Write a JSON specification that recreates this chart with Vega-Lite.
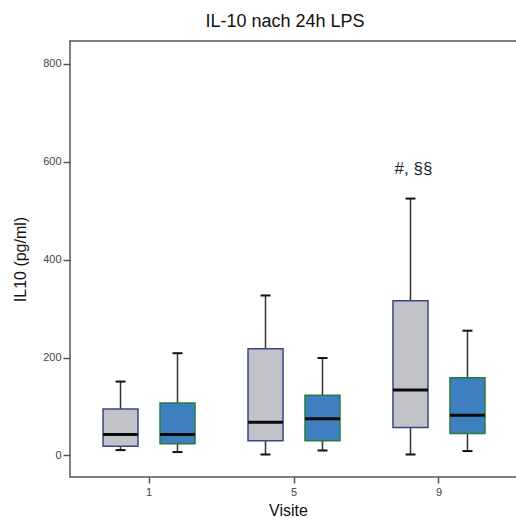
{
  "$schema": "https://vega.github.io/schema/vega-lite/v6.json",
  "autosize": "none",
  "padding": {"left": 70, "top": 41, "right": 0, "bottom": 41},
  "width": 448,
  "height": 436,
  "background": "white",
  "title": {"text": "IL-10 nach 24h LPS", "fontSize": 18, "fontWeight": "normal", "font": "Liberation Sans", "color": "#111", "anchor": "middle", "dx": -9, "dy": 17, "offset": 13, "baseline": "alphabetic"},
  "config": {
    "view": {"stroke": "#555", "strokeWidth": 1.5},
    "font": "Liberation Sans",
    "axis": {"domain": false, "grid": false, "tickColor": "#555", "tickWidth": 1.5, "labelColor": "#444", "labelFontSize": 11, "titleFontWeight": "normal", "titleFontSize": 16, "titleColor": "#111"}
  },
  "data": {"values": [
    {"visit": "1", "group": "Gruppe 1", "lo": 11, "q1": 19, "med": 43, "q3": 95, "hi": 151},
    {"visit": "1", "group": "Gruppe 2", "lo": 7, "q1": 24, "med": 43, "q3": 107, "hi": 209},
    {"visit": "5", "group": "Gruppe 1", "lo": 2, "q1": 30, "med": 68, "q3": 218, "hi": 327},
    {"visit": "5", "group": "Gruppe 2", "lo": 10, "q1": 30, "med": 75, "q3": 123, "hi": 199},
    {"visit": "9", "group": "Gruppe 1", "lo": 2, "q1": 57, "med": 134, "q3": 316, "hi": 525},
    {"visit": "9", "group": "Gruppe 2", "lo": 9, "q1": 45, "med": 82, "q3": 159, "hi": 255}
  ]},
  "encoding": {
    "x": {"field": "visit", "type": "ordinal", "title": "Visite", "sort": ["1", "5", "9"],
      "scale": {"paddingInner": 0, "paddingOuter": 0.045},
      "axis": {"labelAngle": 0, "tickSize": 6, "labelPadding": 3, "titleX": 218, "titleY": 33, "titleBaseline": "middle", "titleAlign": "center"}},
    "xOffset": {"field": "group", "type": "nominal", "sort": ["Gruppe 1", "Gruppe 2"], "scale": {"paddingInner": 0, "paddingOuter": 0.272}}
  },
  "layer": [
    {
      "mark": {"type": "rule", "color": "#333", "strokeWidth": 1.5},
      "encoding": {
        "y": {"field": "lo", "type": "quantitative", "title": "IL10 (pg/ml)",
          "scale": {"domain": [-44, 847], "nice": false, "zero": false},
          "axis": {"values": [0, 200, 400, 600, 800], "tickSize": 7, "labelPadding": 2, "titleX": -50, "titleY": 218, "titleAngle": -90, "titleBaseline": "middle", "titleAlign": "center"}},
        "y2": {"field": "hi"}
      }
    },
    {
      "mark": {"type": "tick", "color": "#111", "size": 10, "thickness": 2, "opacity": 1},
      "encoding": {"y": {"field": "lo", "type": "quantitative"}}
    },
    {
      "mark": {"type": "tick", "color": "#111", "size": 10, "thickness": 2, "opacity": 1},
      "encoding": {"y": {"field": "hi", "type": "quantitative"}}
    },
    {
      "mark": {"type": "bar", "width": 35, "strokeWidth": 1.5, "opacity": 1},
      "encoding": {
        "y": {"field": "q1", "type": "quantitative"},
        "y2": {"field": "q3"},
        "fill": {"field": "group", "type": "nominal", "legend": null, "scale": {"domain": ["Gruppe 1", "Gruppe 2"], "range": ["#c2c3c8", "#3e7fc0"]}},
        "stroke": {"field": "group", "type": "nominal", "legend": null, "scale": {"domain": ["Gruppe 1", "Gruppe 2"], "range": ["#3b4680", "#2c7a3a"]}}
      }
    },
    {
      "mark": {"type": "tick", "color": "#0a0a0a", "size": 35, "thickness": 3, "opacity": 1},
      "encoding": {"y": {"field": "med", "type": "quantitative"}}
    },
    {
      "data": {"values": [{"visit": "9", "group": "Gruppe 1", "value": 585, "label": "#, §§"}]},
      "mark": {"type": "text", "fontSize": 17, "color": "#222", "baseline": "middle", "dx": 3},
      "encoding": {
        "y": {"field": "value", "type": "quantitative"},
        "text": {"field": "label"}
      }
    }
  ]
}
